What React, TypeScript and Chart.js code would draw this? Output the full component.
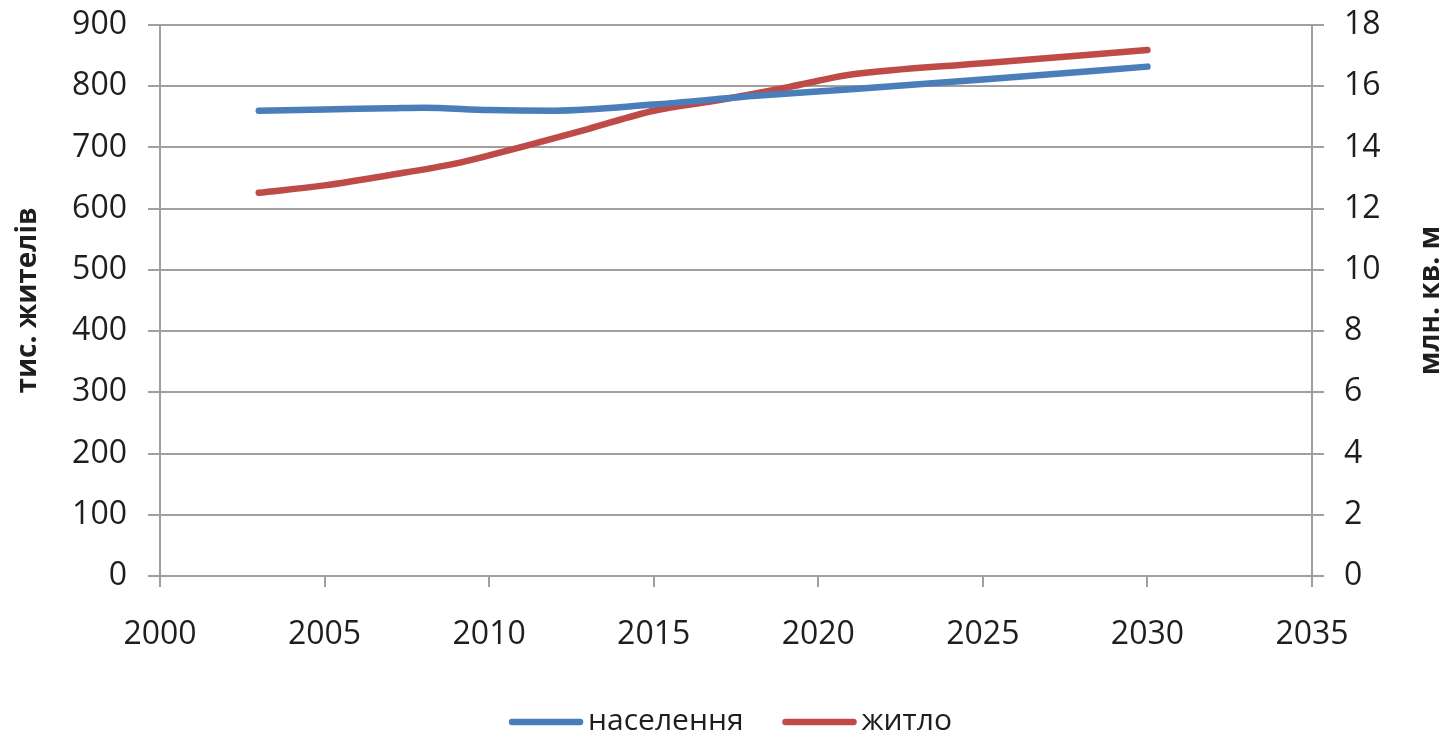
import React, { useEffect, useRef } from "react";
import { Chart, registerables } from "chart.js";

Chart.register(...registerables);

// ---- data ----
const seriesNames = ["населення", "житло"];
const leftAxisTitle = "тис. жителів";
const rightAxisTitle = "млн. кв. м";

const populationYears = [2003, 2005, 2007, 2008, 2010, 2012, 2015, 2018, 2021, 2025, 2030];
const populationValues = [760, 762, 764, 765, 761, 760, 770, 784, 795, 811, 832];

const housingYears = [2003, 2005, 2007, 2009, 2010, 2011, 2013, 2015, 2017, 2019, 2020, 2021, 2025, 2030];
const housingValues = [12.52, 12.76, 13.1, 13.48, 13.74, 14.02, 14.6, 15.2, 15.55, 15.95, 16.18, 16.38, 16.75, 17.18];

const xMin = 2000;
const xMax = 2035;
const xStep = 5;
const leftMax = 900;
const leftStep = 100;
const rightMax = 18;
const rightStep = 2;

const BLUE = "#4A7EBB";
const RED = "#BE4B48";
const GRID = "#a0a0a0";
const TEXT = "#1e1e1e";
const FONT = "'Open Sans', sans-serif";

export default function App() {
  const ref = useRef<HTMLCanvasElement | null>(null);

  useEffect(() => {
    document.body.style.margin = "0";
    const canvas = ref.current;
    if (!canvas) return;

    const overlay = {
      id: "overlay",
      afterDraw(chart: any) {
        const c = chart.ctx as CanvasRenderingContext2D;
        const area = chart.chartArea;
        c.save();
        // right axis title (reads bottom-to-top)
        c.fillStyle = TEXT;
        c.font = `bold 28px ${FONT}`;
        c.textAlign = "center";
        c.textBaseline = "middle";
        c.translate(1431, (area.top + area.bottom) / 2);
        c.rotate(-Math.PI / 2);
        c.fillText(rightAxisTitle, 0, 0);
        c.restore();

        // legend
        c.save();
        c.font = `30px ${FONT}`;
        c.textBaseline = "middle";
        c.textAlign = "left";
        const lineLen = 74;
        const gapText = 5;
        const gapItem = 39;
        const colors = [BLUE, RED];
        const widths = seriesNames.map((n) => c.measureText(n).width);
        const total = widths.reduce((a, w) => a + lineLen + gapText + w, 0) + gapItem * (seriesNames.length - 1);
        let x = 730.5 - total / 2;
        const y = 722;
        seriesNames.forEach((n, i) => {
          c.strokeStyle = colors[i];
          c.lineWidth = 6.5;
          c.lineCap = "round";
          c.beginPath();
          c.moveTo(x + 3, y);
          c.lineTo(x + lineLen - 3, y);
          c.stroke();
          c.fillStyle = TEXT;
          c.fillText(n, x + lineLen + gapText, y - 1);
          x += lineLen + gapText + widths[i] + gapItem;
        });
        c.restore();
      },
    };

    const noPad = (s: any) => {
      s.paddingTop = 0;
      s.paddingBottom = 0;
      s.paddingLeft = 0;
      s.paddingRight = 0;
    };

    const chart = new Chart(canvas, {
      type: "line",
      data: {
        datasets: [
          {
            label: seriesNames[0],
            data: populationYears.map((yr, i) => ({ x: yr, y: populationValues[i] })),
            borderColor: BLUE,
            backgroundColor: BLUE,
            borderWidth: 6.5,
            borderCapStyle: "round",
            borderJoinStyle: "round",
            pointRadius: 0,
            cubicInterpolationMode: "monotone",
            yAxisID: "y",
          },
          {
            label: seriesNames[1],
            data: housingYears.map((yr, i) => ({ x: yr, y: housingValues[i] })),
            borderColor: RED,
            backgroundColor: RED,
            borderWidth: 6.5,
            borderCapStyle: "round",
            borderJoinStyle: "round",
            pointRadius: 0,
            cubicInterpolationMode: "monotone",
            yAxisID: "y1",
          },
        ],
      },
      options: {
        responsive: false,
        animation: false,
        layout: { padding: { top: 25, left: 0, right: 0, bottom: 0 } },
        plugins: {
          legend: { display: false },
          tooltip: { enabled: false },
        },
        scales: {
          x: {
            type: "linear",
            min: xMin,
            max: xMax,
            ticks: {
              stepSize: xStep,
              font: { family: FONT, size: 32 },
              color: TEXT,
              padding: 29,
              maxRotation: 0,
              callback: (v: any) => String(v),
            },
            grid: { drawOnChartArea: false, drawTicks: true, tickLength: 11, color: GRID, lineWidth: 2 },
            border: { display: true, color: GRID, width: 2 },
            afterFit: (s: any) => {
              s.height = 162;
              noPad(s);
            },
          },
          y: {
            position: "left",
            min: 0,
            max: leftMax,
            ticks: { stepSize: leftStep, font: { family: FONT, size: 32 }, color: TEXT, padding: 21 },
            grid: { color: GRID, lineWidth: 2, tickLength: 12, drawTicks: true },
            border: { display: true, color: GRID, width: 2 },
            title: {
              display: true,
              text: leftAxisTitle,
              font: { family: FONT, size: 28, weight: "bold" },
              color: TEXT,
              padding: { top: 11, bottom: 0 },
            },
            afterFit: (s: any) => {
              s.width = 160;
              noPad(s);
            },
          },
          y1: {
            position: "right",
            min: 0,
            max: rightMax,
            ticks: { stepSize: rightStep, font: { family: FONT, size: 32 }, color: TEXT, padding: 20 },
            grid: { drawOnChartArea: false, color: GRID, lineWidth: 2, tickLength: 12, drawTicks: true },
            border: { display: true, color: GRID, width: 2 },
            afterFit: (s: any) => {
              s.width = 136;
              noPad(s);
            },
          },
        },
      },
      plugins: [overlay],
    } as any);

    return () => chart.destroy();
  }, []);

  return (
    <div style={{ position: "fixed", left: 0, top: 0, width: 1448, height: 738, background: "#fff" }}>
      <canvas ref={ref} width={1448} height={738} />
    </div>
  );
}
